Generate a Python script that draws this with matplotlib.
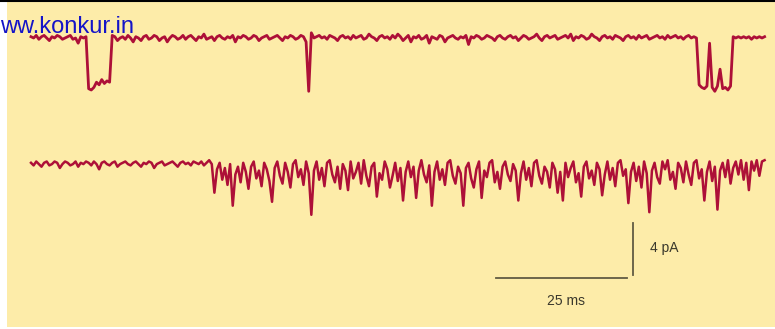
import numpy as np
import matplotlib
matplotlib.use('Agg')
import matplotlib.pyplot as plt
from matplotlib.patches import Rectangle

# sampling interval of both traces (ms)
dt_ms = 0.5

# upper trace: current in pA, one value every 0.5 ms (0 .. 140 ms)
top_pa = [
    0.1, 0.0, 0.2, -0.1, 0.1, 0.2, 0.0, -0.2, 0.1, 0.0,
    0.2, 0.1, -0.1, 0.0, 0.1, 0.2, -0.1, 0.0, -0.4, 0.1,
    0.0, 0.1, -3.9, -4.0, -3.8, -3.4, -3.6, -3.2, -3.5, -3.3,
    -3.4, 0.2, 0.1, -0.2, 0.0, 0.1, -0.1, 0.2, 0.0, -0.3,
    0.1, 0.0, -0.2, 0.1, 0.2, -0.1, 0.0, 0.2, 0.1, -0.2,
    0.0, 0.1, -0.3, 0.0, 0.2, 0.1, -0.1, 0.0, 0.2, -0.1,
    0.1, 0.2, 0.0, -0.2, 0.1, 0.0, 0.3, -0.1, 0.0, 0.1,
    -0.2, 0.1, 0.2, 0.0, -0.1, 0.1, 0.0, 0.2, -0.3, 0.1,
    0.0, 0.2, 0.1, -0.1, 0.0, 0.2, 0.1, -0.2, 0.0, 0.1,
    0.2, -0.1, 0.0, 0.1, 0.2, 0.0, -0.2, 0.1, 0.0, 0.2,
    0.1, -0.1, 0.0, 0.2, 0.1, -0.3, -4.1, 0.4, 0.0, 0.1,
    0.2, 0.0, 0.1, -0.1, 0.2, 0.1, 0.0, -0.2, 0.1, 0.2,
    0.0, 0.1, -0.1, 0.2, 0.0, 0.1, 0.2, -0.1, 0.0, 0.3,
    0.1, 0.0, -0.2, 0.1, 0.2, 0.0, 0.1, -0.1, 0.2, 0.0,
    0.3, 0.1, -0.2, 0.0, 0.2, -0.3, 0.1, 0.0, 0.2, -0.1,
    0.0, 0.2, -0.4, 0.1, 0.0, -0.1, 0.2, 0.1, -0.3, 0.0,
    0.1, 0.2, 0.0, -0.1, 0.1, 0.0, 0.2, -0.5, 0.1, 0.0,
    0.2, 0.1, -0.1, 0.0, 0.2, 0.1, 0.0, -0.2, 0.1, 0.2,
    0.0, -0.1, 0.1, 0.2, 0.0, 0.1, -0.2, 0.0, 0.2, 0.1,
    -0.1, 0.0, 0.1, 0.3, 0.0, -0.2, 0.1, 0.2, 0.0, 0.1,
    0.2, -0.1, 0.0, 0.1, 0.2, 0.0, 0.3, -0.2, 0.1, 0.0,
    0.2, 0.1, -0.1, 0.0, 0.3, 0.1, 0.0, -0.2, 0.1, 0.2,
    0.0, 0.1, -0.1, 0.2, 0.1, 0.0, -0.2, 0.1, 0.2, 0.0,
    0.1, -0.1, 0.2, 0.0, 0.1, 0.2, -0.1, 0.0, 0.1, 0.2,
    0.0, 0.1, -0.1, 0.2, 0.0, 0.1, 0.2, 0.0, 0.1, -0.1,
    0.1, 0.2, 0.0, 0.1, 0.0, -3.6, -3.8, -3.9, -3.7, -0.4,
    -3.8, -4.1, -3.7, -2.4, -3.9, -3.8, -4.0, -3.7, 0.1, 0.0,
    0.1, 0.0, 0.1, 0.0, 0.1, -0.1, 0.1, 0.0, 0.1, 0.0, 0.1,
]

# lower trace: quiet start, then rapid flickering (pA, every 0.5 ms)
bottom_pa = [
    0.1, -0.1, 0.2, 0.0, -0.2, 0.1, 0.2, -0.1, 0.0, 0.2,
    0.1, -0.3, 0.0, 0.2, 0.1, -0.1, 0.0, 0.2, -0.2, 0.1,
    0.0, 0.2, 0.1, -0.1, 0.2, 0.0, -0.4, 0.1, 0.2, 0.0,
    -0.1, 0.1, 0.2, -0.2, 0.0, 0.1, 0.2, 0.0, -0.1, 0.1,
    0.2, 0.0, -0.2, 0.1, 0.0, 0.2, 0.1, -0.3, 0.0, 0.1,
    0.2, -0.1, 0.0, 0.1, 0.2, 0.0, -0.2, 0.1, 0.2, 0.0,
    0.1, -0.1, 0.2, 0.1, 0.0, 0.2, -0.1, 0.1, 0.3, 0.0,
    -2.2, -0.4, 0.1, -1.2, -0.3, -1.6, 0.0, -3.2, -0.8, -0.2,
    -1.4, 0.1, -0.6, -1.9, -0.2, 0.2, -1.1, -0.5, -1.7, 0.1,
    -0.4, -1.3, -2.9, -0.3, 0.2, -0.9, -1.5, 0.1, -0.6, -1.8,
    0.0, 0.3, -1.0, -0.4, -1.6, 0.2, -0.7, -3.9, -0.5, 0.2,
    -1.2, -0.3, -1.7, 0.1, 0.3, -0.8, -1.4, -0.2, -1.9, 0.0,
    -0.5, -2.0, 0.2, -1.1, -0.6, 0.1, -1.5, 0.3, -0.9, -1.7,
    -0.2, 0.1, -2.5, -0.7, -1.2, 0.2, -0.4, -1.8, -0.9, 0.1,
    -1.3, -0.3, -2.8, -0.6, 0.2, -1.0, -0.2, -2.6, -0.5, 0.3,
    -0.8, -1.4, -0.1, -3.2, -0.6, 0.2, -1.2, -0.4, -1.6, 0.1,
    0.3, -0.9, -1.5, -0.2, -0.7, -3.2, -0.3, 0.1, -1.1, -1.8,
    -0.4, 0.2, -2.6, -0.5, -1.0, 0.1, 0.3, -1.4, -0.6, -1.9,
    -0.2, 0.2, -0.8, -1.3, 0.0, -0.5, -2.8, -0.7, 0.2, -1.2,
    -0.3, -1.7, 0.1, 0.3, -0.9, -1.5, -0.2, -0.6, -1.8, 0.1,
    -0.4, -2.2, -0.6, -2.8, 0.1, -1.0, -0.3, 0.2, -1.4, -0.7,
    -2.5, -0.2, 0.2, -1.1, -0.5, -1.6, 0.1, -0.4, -2.4, -0.8,
    0.2, -1.2, -0.3, -1.7, 0.1, 0.3, -0.9, -0.4, -3.0, -0.6,
    0.1, -1.3, -0.2, -1.8, 0.2, -0.7, -3.7, -0.5, 0.1, -1.0,
    -1.5, 0.2, -0.4, 0.3, -1.2, -0.6, -1.9, 0.1, -0.3, -1.4,
    0.2, -0.8, -1.6, 0.1, 0.3, -1.1, -0.4, -2.8, -0.6, 0.2,
    -1.3, -0.2, -3.5, -0.5, 0.1, -1.0, 0.3, -1.5, -0.3, 0.2,
    -0.8, 0.3, -1.2, 0.1, -2.0, 0.2, -0.5, 0.3, -0.9, 0.2, 0.3,
]

bottom_offset_pa = -9.7

# scale bars
bar_ms = 25
bar_pa = 4

trace_color = '#ad1038'
bar_color = '#615b42'
text_color = '#3a382c'
bg_yellow = '#fdeca9'

fig = plt.figure(figsize=(7.75, 3.29), dpi=100, facecolor='white')
ax = fig.add_axes([0, 0, 1, 1])
ax.set_facecolor('white')

# yellow panel, white margin on the left and bottom, thin black rule at top
ax.add_patch(Rectangle((7 / 775, 2 / 329), 768 / 775, 325 / 329,
                       transform=ax.transAxes, facecolor=bg_yellow,
                       edgecolor='none', zorder=0))
ax.plot([0, 1], [1 - 0.8 / 329, 1 - 0.8 / 329], transform=ax.transAxes,
        color='black', lw=1.5, zorder=1)

t_top = np.arange(len(top_pa)) * dt_ms
t_bot = np.arange(len(bottom_pa)) * dt_ms

ax.plot(t_top, top_pa, color=trace_color, lw=2.0, solid_joinstyle='round', zorder=3)
ax.plot(t_bot, np.array(bottom_pa) + bottom_offset_pa, color=trace_color, lw=1.8,
        solid_joinstyle='round', zorder=3)

# scale bars: 25 ms horizontal, 4 pA vertical
bar_x_end = 113.7
bar_y = -18.45
ax.plot([bar_x_end - bar_ms, bar_x_end], [bar_y, bar_y], color=bar_color, lw=1.3, zorder=3)
ax.plot([bar_x_end + 1.2, bar_x_end + 1.2], [bar_y + 0.2, bar_y + 0.2 + bar_pa],
        color=bar_color, lw=1.3, zorder=3)
ax.text(118.1, -16.15, f'{bar_pa} pA', fontsize=10, color=text_color,
        ha='left', va='center', family='Liberation Sans')
ax.text(102.1, -20.25, f'{bar_ms} ms', fontsize=10, color=text_color,
        ha='center', va='center', family='Liberation Sans')

# watermark (its first letter is clipped by the left edge in the source)
ax.text(0.0, 1 - 33 / 329, 'ww.konkur.in', transform=ax.transAxes, fontsize=17,
        color='#1414c8', ha='left', va='baseline', family='Liberation Sans', zorder=5)

ax.set_xlim(-31 / 5.24, 744 / 5.24)
ax.set_ylim(-(329 - 38) / 13, 38 / 13)
ax.axis('off')

fig.savefig('out.png', dpi=100, facecolor='white')
